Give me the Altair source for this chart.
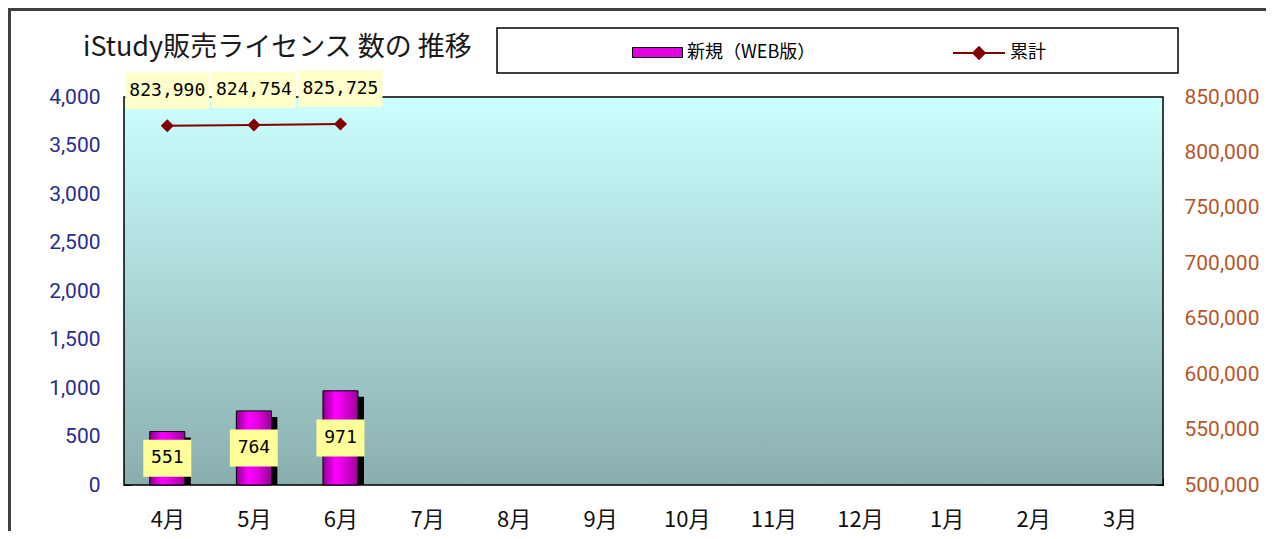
import altair as alt
import pandas as pd

# ---- data ----
months = ["4月", "5月", "6月", "7月", "8月", "9月", "10月", "11月", "12月", "1月", "2月", "3月"]
new_web = [551, 764, 971]
cumulative = [823990, 824754, 825725]
left_ticks = [0, 500, 1000, 1500, 2000, 2500, 3000, 3500, 4000]
right_ticks = [500000, 550000, 600000, 650000, 700000, 750000, 800000, 850000]
bar_series = "新規（WEB版）"
line_series = "累計"
title_text = "iStudy販売ライセンス 数の 推移"

W, H = 1039, 388
CJK = "Noto Sans CJK JP"
NUM = "Roboto"
MONO = "DejaVu Sans Mono"

bars_df = pd.DataFrame({"month": months[:len(new_web)], "value": new_web, "s": bar_series})
line_df = pd.DataFrame({"month": months[:len(cumulative)], "total": cumulative, "s": line_series})
one = pd.DataFrame({"a": [0]})

x_enc = alt.X(
    "month:N", sort=months, title=None,
    scale=alt.Scale(domain=months, paddingInner=0, paddingOuter=0),
    axis=alt.Axis(labelFont=CJK, labelFontSize=22, labelColor="#111111", labelAngle=0,
                  labelPadding=24, tickBand="extent", tickSize=7, tickColor="black",
                  offset=-7, domain=False, grid=False),
)

left_axis = alt.Axis(values=left_ticks, format=",d", labelFont=NUM, labelFontSize=21,
                     labelColor="#2B2B8C", labelPadding=24, tickSize=7, tickColor="black",
                     offset=-7, domain=False, grid=False, orient="left")
right_axis = alt.Axis(values=right_ticks, format=",d", labelFont=NUM, labelFontSize=21,
                      labelColor="#B5562A", labelPadding=21, tickSize=7, tickColor="black",
                      offset=-7, domain=False, grid=False, orient="right")

y_left_scale = alt.Scale(domain=[0, 4000], nice=False, zero=True)
y_right_scale = alt.Scale(domain=[500000, 850000], nice=False, zero=False)

bg_grad = alt.Gradient(gradient="linear", x1=0, y1=0, x2=0, y2=1,
                       stops=[alt.GradientStop(color="#CCFFFF", offset=0),
                              alt.GradientStop(color="#8AAEAE", offset=1)])
bar_grad = alt.Gradient(gradient="linear", x1=0, y1=0, x2=1, y2=0,
                        stops=[alt.GradientStop(color="#8A0090", offset=0),
                               alt.GradientStop(color="#FF00FF", offset=0.35),
                               alt.GradientStop(color="#E000E0", offset=0.6),
                               alt.GradientStop(color="#9A009A", offset=1)])

# plot background with border
background = alt.Chart(one).mark_rect(fill=bg_grad, stroke="black", strokeWidth=1.5).encode(
    x=alt.value(0), x2=alt.value(W), y=alt.value(0), y2=alt.value(H))

base_bars = alt.Chart(bars_df)
shadow = base_bars.mark_bar(color="black", size=35, xOffset=6, yOffset=6, clip=True).encode(
    x=x_enc, y=alt.Y("value:Q", scale=y_left_scale, axis=left_axis, title=None))
legend_bars = base_bars.mark_bar(size=35).encode(
    x=x_enc, y=alt.Y("value:Q", scale=y_left_scale, axis=left_axis, title=None),
    color=alt.Color("s:N", scale=alt.Scale(range=["#E000E0"]),
                    legend=alt.Legend(orient="none", legendX=508, legendY=-70, title=None,
                                      symbolType="M-1,-0.2L1,-0.2L1,0.2L-1,0.2Z", symbolSize=2500,
                                      symbolFillColor="#E000E0", symbolStrokeColor="black",
                                      symbolStrokeWidth=1, labelFont=CJK, labelFontSize=18,
                                      labelColor="black", labelOffset=4, padding=0)))
grad_bars = base_bars.mark_bar(size=35, fill=bar_grad, stroke="black", strokeWidth=1).encode(
    x=x_enc, y=alt.Y("value:Q", scale=y_left_scale, axis=left_axis, title=None))
bar_boxes = base_bars.transform_calculate(mid="datum.value / 2").mark_point(
    shape="M-1,-0.77L1,-0.77L1,0.77L-1,0.77Z", filled=True, fill="#FFFF99", opacity=1,
    size=48 * 48, strokeWidth=0).encode(
    x=x_enc, y=alt.Y("mid:Q", scale=y_left_scale, axis=left_axis, title=None))
bar_text = base_bars.transform_calculate(mid="datum.value / 2").mark_text(
    font=MONO, fontSize=18, color="black").encode(
    x=x_enc, y=alt.Y("mid:Q", scale=y_left_scale, axis=left_axis, title=None),
    text=alt.Text("value:Q", format="d"))

left_layer = alt.layer(background, shadow, legend_bars, grad_bars, bar_boxes, bar_text)

base_line = alt.Chart(line_df)
y_r = alt.Y("total:Q", scale=y_right_scale, axis=right_axis, title=None)
line = base_line.mark_line(color="#800000", strokeWidth=2).encode(x=x_enc, y=y_r)
points = base_line.mark_point(shape="diamond", filled=True, size=170, opacity=1).encode(
    x=x_enc, y=y_r,
    color=alt.Color("s:N", scale=alt.Scale(range=["#800000"]),
                    legend=alt.Legend(orient="none", legendX=828, legendY=-71, title=None,
                                      symbolType="M-1,0L1,0M0,-0.22L0.22,0L0,0.22L-0.22,0Z",
                                      symbolSize=2704, symbolFillColor="#800000",
                                      symbolStrokeColor="#800000", symbolStrokeWidth=2,
                                      labelFont=CJK, labelFontSize=18, labelColor="black",
                                      labelOffset=4, padding=0)))
line_boxes = base_line.mark_point(
    shape="M-1,-0.43L1,-0.43L1,0.43L-1,0.43Z", filled=True, fill="#FFFFCC", opacity=1,
    size=84 * 84, strokeWidth=0, yOffset=-35).encode(x=x_enc, y=y_r)
line_text = base_line.mark_text(font=MONO, fontSize=18, color="black", yOffset=-35).encode(
    x=x_enc, y=y_r, text=alt.Text("total:Q", format=","))

right_layer = alt.layer(line, points, line_boxes, line_text)

outer_frame = alt.Chart(one).mark_rect(fillOpacity=0, stroke="#404040", strokeWidth=3).encode(
    x=alt.value(-114.5), x2=alt.value(W + 130), y=alt.value(-87.5), y2=alt.value(H + 80))
legend_frame = alt.Chart(one).mark_rect(fill="white", stroke="black", strokeWidth=1.5).encode(
    x=alt.value(373), x2=alt.value(1054), y=alt.value(-69), y2=alt.value(-24))

chart = alt.layer(outer_frame, legend_frame, left_layer, right_layer).resolve_scale(
    y="independent", color="independent"
).properties(
    width=W, height=H,
    padding={"left": 116, "top": 89, "right": 103, "bottom": 46},
    autosize="none",
    title=alt.TitleParams(title_text, anchor="start", frame="group", dx=-41, dy=54, offset=0,
                          fontSize=27, font=CJK, fontWeight="normal", color="#1a1a1a"),
).configure_view(stroke=None)

chart.save("out.html", embed_options={"renderer": "svg", "actions": False})
